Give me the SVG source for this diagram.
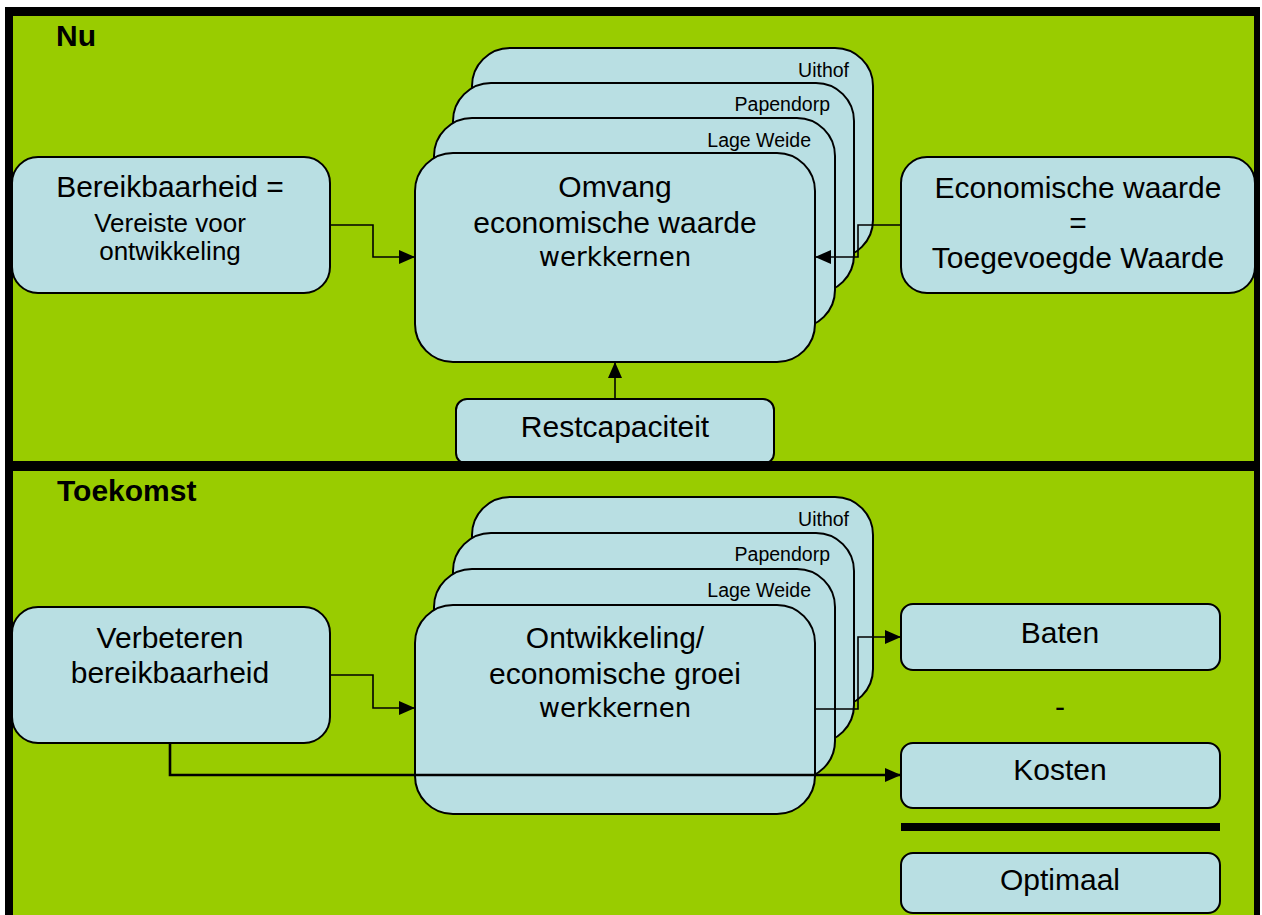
<svg xmlns="http://www.w3.org/2000/svg" width="1262" height="915" viewBox="0 0 1262 915">
  <defs>
    <style>
      .box { fill: #B9DFE3; stroke: #000; stroke-width: 2; }
      .t { font-family: "Liberation Sans", Arial, sans-serif; fill: #000; }
      .c { text-anchor: middle; }
      .r { text-anchor: end; }
      .big { font-size: 30px; }
      .mid { font-size: 26px; }
      .sm { font-size: 19.5px; }
      .hd { font-size: 30px; font-weight: bold; }
      .dv { font-family: "DejaVu Sans", Verdana, sans-serif; font-size: 26px; fill: #000; }
      .ln { fill: none; stroke: #000; stroke-width: 1.6; }
      .lnb { fill: none; stroke: #000; stroke-width: 2.6; }
    </style>
    <marker id="ah" viewBox="0 0 16 14" refX="16" refY="7" markerWidth="16" markerHeight="14" markerUnits="userSpaceOnUse" orient="auto">
      <path d="M0,0 L16,7 L0,14 Z" fill="#000"/>
    </marker>
  </defs>

  <!-- frame and panels -->
  <rect x="5" y="7" width="1255" height="915" fill="#000"/>
  <rect x="13" y="16" width="1241" height="445" fill="#99CC00"/>
  <rect x="13" y="471" width="1241" height="450" fill="#99CC00"/>

  <text class="t hd" x="56" y="46">Nu</text>
  <text class="t hd" x="57" y="501">Toekomst</text>

  <!-- TOP PANEL -->
  <g id="bereikbaarheid">
    <rect class="box" x="12" y="157" width="318" height="136" rx="26"/>
    <text class="t c big" x="170" y="197">Bereikbaarheid =</text>
    <text class="t c mid" x="170" y="232">Vereiste voor</text>
    <text class="t c mid" x="170" y="260">ontwikkeling</text>
  </g>

  <g id="stack-top">
    <g id="top-uithof">
      <rect class="box" x="472" y="48" width="401" height="210" rx="38"/>
      <text class="t r sm" x="849" y="77">Uithof</text>
    </g>
    <g id="top-papendorp">
      <rect class="box" x="453" y="83" width="401" height="210" rx="38"/>
      <text class="t r sm" x="830" y="111">Papendorp</text>
    </g>
    <g id="top-lageweide">
      <rect class="box" x="434" y="118" width="401" height="210" rx="38"/>
      <text class="t r sm" x="811" y="147">Lage Weide</text>
    </g>
    <g id="omvang">
      <rect class="box" x="415" y="153" width="400" height="209" rx="38"/>
      <text class="t c big" x="615" y="197">Omvang</text>
      <text class="t c big" x="615" y="233">economische waarde</text>
      <text class="dv c" x="615" y="266">werkkernen</text>
    </g>
  </g>

  <g id="economische-waarde">
    <rect class="box" x="901" y="157" width="354" height="136" rx="26"/>
    <text class="t c big" x="1078" y="198">Economische waarde</text>
    <text class="t c big" x="1078" y="233">=</text>
    <text class="t c big" x="1078" y="268">Toegevoegde Waarde</text>
  </g>

  <g id="restcapaciteit">
    <rect class="box" x="456" y="399" width="318" height="65" rx="11"/>
    <text class="t c big" x="615" y="437">Restcapaciteit</text>
  </g>

  <!-- separator -->
  <rect x="5" y="461" width="1255" height="10" fill="#000"/>

  <!-- BOTTOM PANEL -->
  <g id="verbeteren">
    <rect class="box" x="12" y="607" width="318" height="136" rx="26"/>
    <text class="t c big" x="170" y="648">Verbeteren</text>
    <text class="t c big" x="170" y="683">bereikbaarheid</text>
  </g>

  <g id="stack-bottom">
    <g id="bot-uithof">
      <rect class="box" x="472" y="497" width="401" height="210" rx="38"/>
      <text class="t r sm" x="849" y="526">Uithof</text>
    </g>
    <g id="bot-papendorp">
      <rect class="box" x="453" y="533" width="401" height="210" rx="38"/>
      <text class="t r sm" x="830" y="561">Papendorp</text>
    </g>
    <g id="bot-lageweide">
      <rect class="box" x="434" y="569" width="401" height="210" rx="38"/>
      <text class="t r sm" x="811" y="597">Lage Weide</text>
    </g>
    <g id="ontwikkeling">
      <rect class="box" x="415" y="605" width="400" height="209" rx="38"/>
      <text class="t c big" x="615" y="648">Ontwikkeling/</text>
      <text class="t c big" x="615" y="684">economische groei</text>
      <text class="dv c" x="615" y="717">werkkernen</text>
    </g>
  </g>

  <g id="baten">
    <rect class="box" x="901" y="604" width="319" height="66" rx="12"/>
    <text class="t c big" x="1060" y="643">Baten</text>
  </g>
  <text class="t c big" x="1060" y="717">-</text>
  <g id="kosten">
    <rect class="box" x="901" y="743" width="319" height="65" rx="12"/>
    <text class="t c big" x="1060" y="780">Kosten</text>
  </g>
  <rect x="901" y="823" width="319" height="8" fill="#000"/>
  <g id="optimaal">
    <rect class="box" x="901" y="853" width="319" height="60" rx="12"/>
    <text class="t c big" x="1060" y="890">Optimaal</text>
  </g>

  <!-- connectors -->
  <g id="connectors">
    <path class="ln" d="M330,225 H373 V257 H415" marker-end="url(#ah)"/>
    <path class="ln" d="M901,225 H858 V257 H815" marker-end="url(#ah)"/>
    <path class="ln" d="M615,399 V362" marker-end="url(#ah)"/>
    <path class="ln" d="M330,675 H373 V708 H415" marker-end="url(#ah)"/>
    <path class="ln" d="M815,709 H858 V637 H901" marker-end="url(#ah)"/>
    <path class="lnb" d="M170,743 V775 H901" marker-end="url(#ah)"/>
  </g>
</svg>
